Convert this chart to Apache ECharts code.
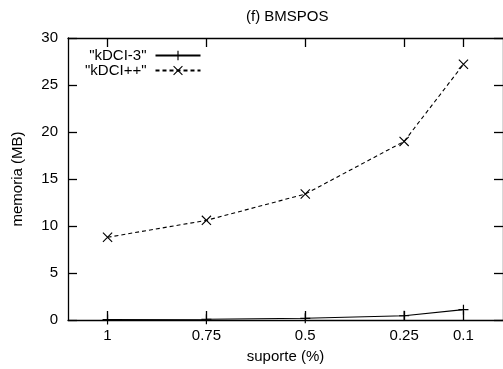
<!DOCTYPE html>
<html>
<head>
<meta charset="utf-8">
<script src="https://cdn.jsdelivr.net/npm/echarts@6/dist/echarts.min.js"></script>
<style>
html,body{margin:0;padding:0;background:#fff;}
#c{width:503px;height:369px;}
</style>
</head>
<body>
<div id="c"></div>
<script>
// ---- data ----
var support = [1, 0.75, 0.5, 0.25, 0.1];           // suporte (%)
var kdci3 = [0.05, 0.08, 0.18, 0.45, 1.1];          // "kDCI-3" memoria (MB)
var kdcipp = [8.8, 10.6, 13.4, 19.0, 27.2];         // "kDCI++" memoria (MB)
var xTicks = [1, 0.75, 0.5, 0.25, 0.1];
var titleText = '(f) BMSPOS';
var xName = 'suporte (%)';
var yName = 'memoria (MB)';
var names = ['"kDCI-3"', '"kDCI++"'];

function pairs(xs, ys) { return xs.map(function (x, i) { return [x, ys[i]]; }); }

var FONT = 'Liberation Sans, Arial, Helvetica, sans-serif';
var FS = 15;
var plusPath = 'path://M0,4.4 L10,4.4 L10,5.6 L0,5.6 Z M4.4,0 L5.6,0 L5.6,10 L4.4,10 Z';
var crossPath = 'path://M0,0.8 L0.8,0 L10,9.2 L9.2,10 Z M9.2,0 L10,0.8 L0.8,10 L0,9.2 Z';

var chart = echarts.init(document.getElementById('c'), null, {renderer: 'canvas'});
function line() { return {show: true, onZero: false, lineStyle: {color: '#000', width: 1.3}}; }
function tick(custom) {
  var t = {show: true, inside: true, length: 9, lineStyle: {color: '#000', width: 1.3}};
  if (custom) t.customValues = custom;
  return t;
}
var option = {
  animation: false,
  backgroundColor: '#fff',
  textStyle: {fontFamily: FONT, color: '#000'},
  title: {
    text: titleText, left: 246, top: 9, padding: 0,
    textStyle: {fontFamily: FONT, fontSize: FS, fontWeight: 'normal', color: '#000'}
  },
  legend: {
    orient: 'vertical', align: 'right', left: 85, top: 48, padding: 0,
    itemWidth: 45, itemHeight: 12, itemGap: 0,
    textStyle: {fontFamily: FONT, fontSize: FS, color: '#000', padding: [0, 4, 0, 0]},
    data: names
  },
  grid: {left: 68, top: 38, width: 438, height: 283, containLabel: false},
  xAxis: [{
    type: 'value', min: 0, max: 1.1, inverse: true, position: 'bottom',
    name: xName, nameLocation: 'middle', nameGap: 29,
    nameTextStyle: {fontFamily: FONT, fontSize: FS, color: '#000'},
    axisLine: line(),
    axisTick: tick(xTicks),
    axisLabel: {show: true, customValues: xTicks, margin: 8, fontFamily: FONT, fontSize: FS, color: '#000'},
    splitLine: {show: false}
  }, {
    type: 'value', min: 0, max: 1.1, inverse: true, position: 'top',
    axisLine: line(),
    axisTick: tick(xTicks),
    axisLabel: {show: false},
    splitLine: {show: false}
  }],
  yAxis: [{
    type: 'value', min: 0, max: 30, interval: 5, position: 'left',
    name: yName, nameLocation: 'middle', nameGap: 43,
    nameTextStyle: {fontFamily: FONT, fontSize: FS, color: '#000'},
    axisLine: line(),
    axisTick: tick(null),
    axisLabel: {show: true, margin: 10, fontFamily: FONT, fontSize: FS, color: '#000'},
    splitLine: {show: false}
  }, {
    type: 'value', min: 0, max: 30, interval: 5, position: 'right',
    axisLine: line(),
    axisTick: tick(null),
    axisLabel: {show: false},
    splitLine: {show: false}
  }],
  series: [{
    name: names[0], type: 'line', xAxisIndex: 0, yAxisIndex: 0,
    data: pairs(support, kdci3),
    symbol: plusPath, symbolSize: 10, showSymbol: true,
    lineStyle: {color: '#000', width: 1.1, type: 'solid'},
    itemStyle: {color: '#000'}
  }, {
    name: names[1], type: 'line', xAxisIndex: 0, yAxisIndex: 0,
    data: pairs(support, kdcipp),
    symbol: crossPath, symbolSize: 10, showSymbol: true,
    lineStyle: {color: '#000', width: 1.1, type: [4, 3]},
    itemStyle: {color: '#000'}
  }]
};
chart.setOption(option);
</script>
</body>
</html>
